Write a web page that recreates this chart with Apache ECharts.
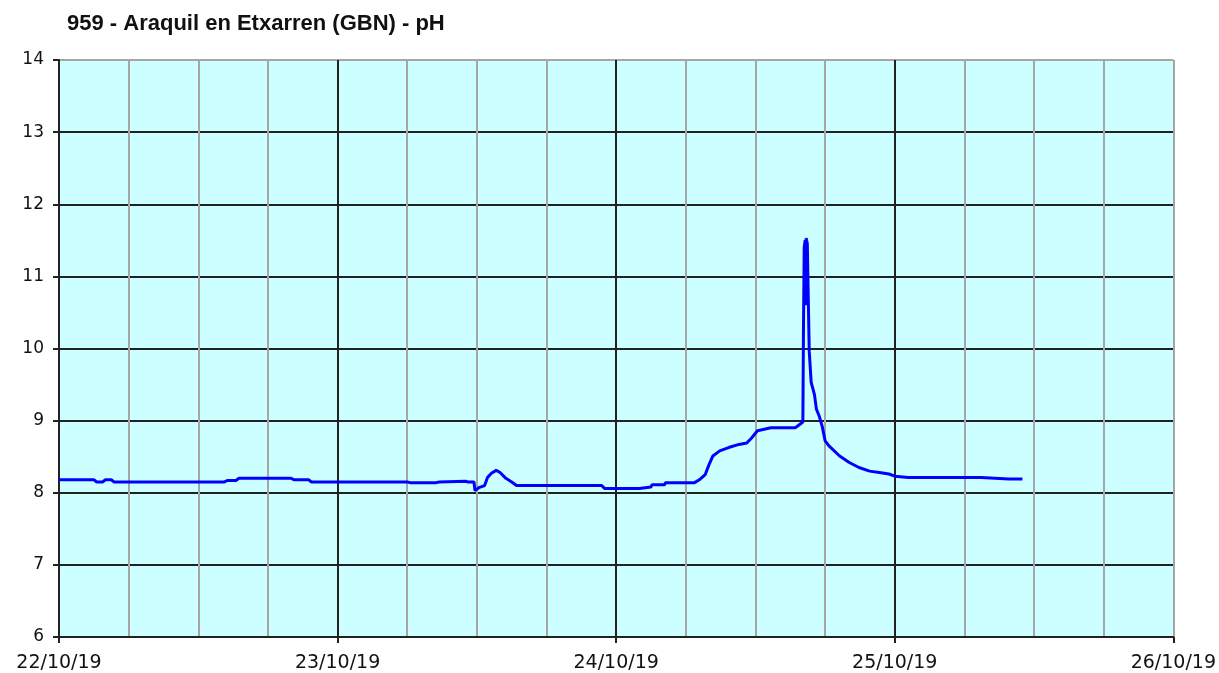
<!DOCTYPE html>
<html>
<head>
<meta charset="utf-8">
<title>959 - Araquil en Etxarren (GBN) - pH</title>
<script src="https://cdn.jsdelivr.net/npm/echarts@6/dist/echarts.min.js"></script>
<style>
  html, body { margin: 0; padding: 0; background: #fff; }
  #main { width: 1219px; height: 673px; }
</style>
</head>
<body>
<div id="main"></div>
<script>
// lecturas de pH (hora local)
var times = [
  '2019-10-22 00:00', '2019-10-22 03:00', '2019-10-22 03:15', '2019-10-22 03:45', '2019-10-22 04:00',
  '2019-10-22 04:30', '2019-10-22 04:45', '2019-10-22 14:15', '2019-10-22 14:30', '2019-10-22 15:15',
  '2019-10-22 15:30', '2019-10-22 20:00', '2019-10-22 20:15', '2019-10-22 21:30', '2019-10-22 21:45',
  '2019-10-23 06:00', '2019-10-23 06:15', '2019-10-23 08:30', '2019-10-23 08:45', '2019-10-23 11:00',
  '2019-10-23 11:15', '2019-10-23 11:45', '2019-10-23 11:50', '2019-10-23 12:10', '2019-10-23 12:40',
  '2019-10-23 12:55', '2019-10-23 13:15', '2019-10-23 13:40', '2019-10-23 14:00', '2019-10-23 14:30',
  '2019-10-23 15:00', '2019-10-23 15:25', '2019-10-23 22:45', '2019-10-23 23:00', '2019-10-24 02:00',
  '2019-10-24 02:05', '2019-10-24 03:00', '2019-10-24 03:05', '2019-10-24 04:10', '2019-10-24 04:15',
  '2019-10-24 06:45', '2019-10-24 07:10', '2019-10-24 07:40', '2019-10-24 08:00', '2019-10-24 08:20',
  '2019-10-24 08:55', '2019-10-24 09:45', '2019-10-24 10:35', '2019-10-24 11:15', '2019-10-24 11:40',
  '2019-10-24 12:10', '2019-10-24 12:45', '2019-10-24 13:20', '2019-10-24 15:25', '2019-10-24 15:45',
  '2019-10-24 16:05', '2019-10-24 16:08', '2019-10-24 16:12', '2019-10-24 16:17', '2019-10-24 16:20',
  '2019-10-24 16:22', '2019-10-24 16:28', '2019-10-24 16:33', '2019-10-24 16:38', '2019-10-24 16:48',
  '2019-10-24 17:05', '2019-10-24 17:15', '2019-10-24 17:30', '2019-10-24 17:45', '2019-10-24 18:00',
  '2019-10-24 18:20', '2019-10-24 19:15', '2019-10-24 20:05', '2019-10-24 20:55', '2019-10-24 21:50',
  '2019-10-24 22:40', '2019-10-24 23:30', '2019-10-25 00:00', '2019-10-25 01:10', '2019-10-25 07:25',
  '2019-10-25 07:30', '2019-10-25 09:50', '2019-10-25 10:00', '2019-10-25 10:25', '2019-10-25 11:00'
];
var ph = [
  8.18, 8.18, 8.15, 8.15, 8.18,
  8.18, 8.15, 8.15, 8.17, 8.17,
  8.20, 8.20, 8.18, 8.18, 8.15,
  8.15, 8.14, 8.14, 8.15, 8.16,
  8.15, 8.15, 8.03, 8.07, 8.10,
  8.21, 8.27, 8.31, 8.28, 8.20,
  8.15, 8.10, 8.10, 8.06, 8.06,
  8.08, 8.08, 8.11, 8.11, 8.14,
  8.14, 8.18, 8.25, 8.39, 8.51,
  8.58, 8.63, 8.67, 8.69, 8.76,
  8.86, 8.88, 8.90, 8.90, 8.94,
  8.98, 10.2, 11.4, 11.5, 10.6,
  11.53, 11.45, 10.7, 9.96, 9.53,
  9.36, 9.16, 9.06, 8.92, 8.72,
  8.65, 8.51, 8.42, 8.35, 8.30,
  8.28, 8.26, 8.23, 8.21, 8.21,
  8.19, 8.19, 8.21, 8.19, 8.19
];
var dayLabels = ['22/10/19', '23/10/19', '24/10/19', '25/10/19', '26/10/19'];
var start = '2019-10-22 00:00';

// horas desde el inicio
function hoursFrom(t) {
  var a = new Date(start.replace(' ', 'T'));
  var b = new Date(t.replace(' ', 'T'));
  return (b - a) / 3600000;
}

var data = times.map(function (t, i) { return [hoursFrom(t), ph[i]]; });

var BLACK = '#222';
var GREY = '#A6A6A6';

// lineas verticales: negras cada dia, grises cada 6 h, la ultima gris
var xLineColors = [];
for (var i = 0; i <= 16; i++) {
  xLineColors.push(i % 4 === 0 && i < 16 ? BLACK : GREY);
}
// lineas horizontales: la de arriba (14) gris
var yLineColors = [];
for (var j = 0; j <= 8; j++) {
  yLineColors.push(j < 8 ? BLACK : GREY);
}

var myChart = echarts.init(document.getElementById('main'));
var fontFam = '"DejaVu Sans", Verdana, sans-serif';

myChart.setOption({
  animation: false,
  title: {
    text: '959 - Araquil en Etxarren (GBN) - pH',
    left: 62,
    top: 8,
    textStyle: { fontFamily: '"Liberation Sans", Arial, sans-serif', fontWeight: 'bold', fontSize: 22, color: '#111' }
  },
  grid: {
    left: 59, right: 45, top: 60, bottom: 35,
    show: true,
    backgroundColor: '#CCFFFF',
    borderWidth: 0
  },
  xAxis: [
    {
      type: 'value',
      min: 0, max: 96, interval: 6,
      axisLine: { show: true, lineStyle: { color: BLACK, width: 2 } },
      axisTick: { show: false },
      axisLabel: { show: false },
      splitLine: {
        show: true,
        lineStyle: { color: xLineColors, width: 2 }
      }
    },
    {
      type: 'value',
      position: 'bottom',
      min: 0, max: 96, interval: 24,
      axisLine: { show: false },
      axisTick: { show: true, length: 6, lineStyle: { color: BLACK, width: 2 } },
      splitLine: { show: false },
      axisLabel: {
        margin: 17,
        fontFamily: fontFam, fontSize: 19, color: '#111',
        formatter: function (v) { return dayLabels[Math.round(v / 24)]; }
      }
    }
  ],
  yAxis: {
    type: 'value',
    min: 6, max: 14, interval: 1,
    axisLine: { show: true, lineStyle: { color: BLACK, width: 2 } },
    axisTick: { show: true, length: 6, lineStyle: { color: BLACK, width: 2 } },
    splitLine: { show: true, lineStyle: { color: yLineColors, width: 2 } },
    axisLabel: { margin: 15, fontFamily: fontFam, fontSize: 17, color: '#111' }
  },
  series: [
    {
      name: 'pH',
      type: 'line',
      xAxisIndex: 0,
      showSymbol: false,
      symbol: 'none',
      lineStyle: { color: '#0000FF', width: 3 },
      data: data
    }
  ]
});
</script>
</body>
</html>
